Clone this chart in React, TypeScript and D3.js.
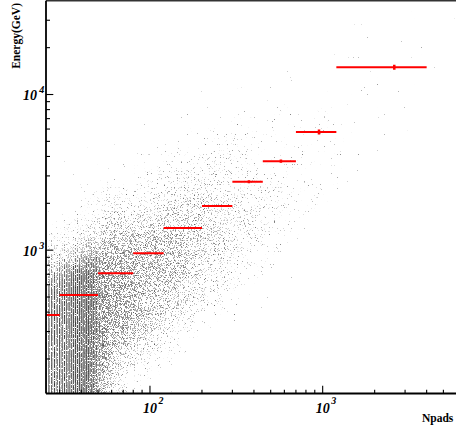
import * as React from 'react'
import { useEffect, useRef } from 'react'
import * as d3 from 'd3'

const W = 456
const H = 432

// profile bins (red): Npads range of each bin, mean Npads, mean energy and its error
const binLow = [25, 30, 50, 80, 120, 200, 300, 450, 700, 1200]
const binHigh = [30, 50, 80, 120, 200, 300, 450, 700, 1200, 4000]
const binMeanX = [27.3, 38.5, 63, 98, 155, 250, 374, 573, 952, 2598]
const binMeanE = [383, 515, 712, 957, 1390, 1923, 2754, 3732, 5754, 14960]
const binErrE = [6, 6, 8, 10, 15, 30, 60, 85, 210, 550]

// scatter density.
// one string per column of 0.1 in log10(Npads), starting at 10^1.4;
// each digit is one 0.1 step in log10(E) from 10^2.1 (first) to 10^4.6 (last).
// 0 = empty ... 9 = darkest
const densLogX0 = 1.4
const densLogY0 = 2.1
const densStep = 0.1
const densCols = [
  '9999999864211000000000000',
  '9999999975321110000000000',
  '9999999986432111000000000',
  '5677777776543211000000000',
  '3456777776543221100000000',
  '2345666766543221100000000',
  '1234556666544322110000000',
  '1123455666554332110000000',
  '0112344555554432211000000',
  '0011233445544433211000000',
  '0001123344444333211100000',
  '0000112233443332221100000',
  '0000011223333322211100000',
  '0000000112233322221110000',
  '0000000011222222211110000',
  '0000000001122222221111000',
  '0000000000111222221111000',
  '0000000000001111211111100',
  '0000000000000111111111110',
  '0000000000000011111111110',
  '0000000000000001111111111',
  '0000000000000000001111111',
  '0000000000000000000011111',
  '0000000000000000000001111',
]

const xDomain = [25, 7000]
const yDomain = [120, 40000]
const xMajor = [100, 1000]
const xMajorExp = ['2', '3']
const yMajor = [1000, 10000]
const yMajorExp = ['3', '4']
const stripeMaxN = 52

// share of pixels that carry a dot for each density digit
const coverage = [0, 0.008, 0.03, 0.08, 0.17, 0.27, 0.37, 0.47, 0.6, 0.9]
const noiseSd = 0.11

const FONT = '"Liberation Serif", "Times New Roman", serif'

function erf(v: number) {
  const s = Math.sign(v)
  const a = Math.abs(v)
  const t = 1 / (1 + 0.3275911 * a)
  const y = 1 - (((((1.061405429 * t - 1.453152027) * t) + 1.421413741) * t - 0.284496736) * t + 0.254829592) * t * Math.exp(-a * a)
  return s * y
}

export default function App() {
  const svgRef = useRef<SVGSVGElement>(null)

  useEffect(() => {
    if (!svgRef.current) return
    const svg = d3.select(svgRef.current)
    svg.selectAll('*').remove()

    const left = 46
    const top = 0.8
    const bottom = 393.5
    const pxPerDecade = 172.7
    const right = left + pxPerDecade * Math.log10(xDomain[1] / xDomain[0])

    const x = d3.scaleLog().domain(xDomain).range([left, right])
    const y = d3.scaleLog().domain(yDomain).range([bottom, top])

    const defs = svg.append('defs')
    defs.append('clipPath').attr('id', 'plotArea')
      .append('rect')
      .attr('x', left).attr('y', top)
      .attr('width', right - left).attr('height', bottom - top)

    // speckle filter: blurred density -> thresholded noise -> grey dots
    const cdf = d3.range(41).map(i => 0.5 * (1 + erf((i / 40 - 0.5) / (noiseSd * Math.SQRT2))))
    const filter = defs.append('filter')
      .attr('id', 'speckle')
      .attr('filterUnits', 'userSpaceOnUse')
      .attr('x', 0).attr('y', 0).attr('width', W + 40).attr('height', H)
      .attr('color-interpolation-filters', 'sRGB')
    filter.append('feGaussianBlur')
      .attr('in', 'SourceGraphic').attr('stdDeviation', 7).attr('result', 'dens')
    filter.append('feTurbulence')
      .attr('type', 'fractalNoise').attr('baseFrequency', 1.3)
      .attr('numOctaves', 1).attr('seed', 11).attr('result', 'noise')
    filter.append('feComponentTransfer')
      .attr('in', 'noise').attr('result', 'unoise')
      .append('feFuncA').attr('type', 'table').attr('tableValues', cdf.map(v => v.toFixed(5)).join(' '))
    filter.append('feComposite')
      .attr('in', 'unoise').attr('in2', 'dens').attr('operator', 'arithmetic')
      .attr('k1', 0).attr('k2', 1).attr('k3', 1).attr('k4', -0.5).attr('result', 'sum')
    filter.append('feComponentTransfer')
      .attr('in', 'sum').attr('result', 'dots')
      .append('feFuncA').attr('type', 'discrete').attr('tableValues', '0 1')
    // dot shade: random grey, darker where the density is high
    filter.append('feTurbulence')
      .attr('type', 'fractalNoise').attr('baseFrequency', 1.1)
      .attr('numOctaves', 1).attr('seed', 4).attr('result', 'noise2')
    filter.append('feColorMatrix')
      .attr('in', 'noise2').attr('type', 'matrix')
      .attr('values', '0 0 0 1.5 0.15  0 0 0 1.5 0.15  0 0 0 1.5 0.15  0 0 0 0 1')
      .attr('result', 'grey')
    filter.append('feColorMatrix')
      .attr('in', 'dens').attr('type', 'matrix')
      .attr('values', '0 0 0 -0.72 1  0 0 0 -0.72 1  0 0 0 -0.72 1  0 0 0 0 1')
      .attr('result', 'shade')
    filter.append('feComposite')
      .attr('in', 'grey').attr('in2', 'shade').attr('operator', 'arithmetic')
      .attr('k1', 1).attr('k2', 0).attr('k3', 0).attr('k4', 0).attr('result', 'ink')
    filter.append('feComposite').attr('in', 'ink').attr('in2', 'dots').attr('operator', 'in')

    // integer Npads gives columns at low x
    const mask = defs.append('mask')
      .attr('id', 'stripes')
      .attr('maskUnits', 'userSpaceOnUse')
      .attr('x', 0).attr('y', 0).attr('width', W + 40).attr('height', H)
    mask.selectAll('rect.col')
      .data(d3.range(25, stripeMaxN + 1))
      .join('rect')
      .attr('class', 'col')
      .attr('x', n => x(n) - 0.6)
      .attr('width', 1.2)
      .attr('y', 0).attr('height', H)
      .attr('fill', '#fff')
    mask.append('rect')
      .attr('x', x(stripeMaxN + 0.5)).attr('y', 0)
      .attr('width', W + 40).attr('height', H)
      .attr('fill', '#fff')

    const cells: { x0: number; x1: number; y0: number; y1: number; d: number }[] = []
    densCols.forEach((col, ci) => {
      col.split('').forEach((ch, ri) => {
        const d = +ch
        if (!d) return
        let x0 = x(Math.pow(10, densLogX0 + densStep * ci))
        let x1 = x(Math.pow(10, densLogX0 + densStep * (ci + 1)))
        let y0 = y(Math.pow(10, densLogY0 + densStep * (ri + 1)))
        let y1 = y(Math.pow(10, densLogY0 + densStep * ri))
        if (ci === 0) x0 -= 20
        if (ci === densCols.length - 1) x1 += 20
        if (ri === 0) y1 += 20
        if (ri === col.length - 1) y0 -= 20
        cells.push({ x0, x1, y0, y1, d })
      })
    })

    const scatter = svg.append('g').attr('clip-path', 'url(#plotArea)')
      .append('g').attr('mask', 'url(#stripes)')
      .append('g').attr('filter', 'url(#speckle)')
    scatter.selectAll('rect')
      .data(cells)
      .join('rect')
      .attr('x', c => c.x0)
      .attr('y', c => c.y0)
      .attr('width', c => c.x1 - c.x0)
      .attr('height', c => c.y1 - c.y0)
      .attr('fill', '#fff')
      .attr('fill-opacity', c => coverage[c.d])

    // profile
    const prof = svg.append('g').attr('clip-path', 'url(#plotArea)')
    const bins = binLow.map((lo, i) => ({
      lo, hi: binHigh[i], mx: binMeanX[i], e: binMeanE[i], err: binErrE[i],
    }))
    prof.selectAll('line.h')
      .data(bins)
      .join('line')
      .attr('class', 'h')
      .attr('x1', b => x(b.lo)).attr('x2', b => x(b.hi))
      .attr('y1', b => y(b.e)).attr('y2', b => y(b.e))
      .attr('stroke', '#ff0000').attr('stroke-width', 2)
    prof.selectAll('line.v')
      .data(bins)
      .join('line')
      .attr('class', 'v')
      .attr('x1', b => x(b.mx)).attr('x2', b => x(b.mx))
      .attr('y1', b => y(b.e - b.err)).attr('y2', b => y(b.e + b.err))
      .attr('stroke', '#ff0000').attr('stroke-width', 2.5)

    // frame and axes
    svg.append('line')
      .attr('x1', left).attr('x2', W + 10)
      .attr('y1', top).attr('y2', top)
      .attr('stroke', '#333').attr('stroke-width', 1.4)

    const axes = svg.append('g').attr('stroke', '#000')
    axes.append('line')
      .attr('x1', left).attr('x2', left).attr('y1', top).attr('y2', bottom)
      .attr('stroke-width', 1.8)
    axes.append('line')
      .attr('x1', left).attr('x2', W + 10).attr('y1', bottom).attr('y2', bottom)
      .attr('stroke-width', 1.8)

    const xTicks = x.ticks().filter(t => t > xDomain[0] && t < xDomain[1])
    axes.selectAll('line.xt')
      .data(xTicks)
      .join('line')
      .attr('class', 'xt')
      .attr('x1', t => x(t)).attr('x2', t => x(t))
      .attr('y1', bottom)
      .attr('y2', t => bottom - (xMajor.includes(t) ? 7.7 : 3.8))
      .attr('stroke-width', 1.1)

    const yTicks = y.ticks().filter(t => t > yDomain[0] && t < yDomain[1])
    axes.selectAll('line.yt')
      .data(yTicks)
      .join('line')
      .attr('class', 'yt')
      .attr('y1', t => y(t)).attr('y2', t => y(t))
      .attr('x1', left)
      .attr('x2', t => left + (yMajor.includes(t) ? 7.3 : 4))
      .attr('stroke-width', 1.1)

    const labels = svg.append('g')
      .attr('font-family', FONT)
      .attr('font-weight', 'bold')
      .attr('font-style', 'italic')
      .attr('fill', '#000')

    xMajor.forEach((v, i) => {
      labels.append('text')
        .attr('x', x(v)).attr('y', 412.5)
        .attr('text-anchor', 'middle')
        .attr('font-size', 14)
        .text('10')
      labels.append('text')
        .attr('x', x(v) + 8.5).attr('y', 404)
        .attr('font-size', 10)
        .text(xMajorExp[i])
    })
    yMajor.forEach((v, i) => {
      labels.append('text')
        .attr('x', 37).attr('y', y(v) + 5.5)
        .attr('text-anchor', 'end')
        .attr('font-size', 14)
        .text('10')
      labels.append('text')
        .attr('x', 39.3).attr('y', y(v) - 1.5)
        .attr('font-size', 10)
        .text(yMajorExp[i])
    })

    svg.append('text')
      .attr('x', 422).attr('y', 421.5)
      .attr('font-family', FONT).attr('font-weight', 'bold')
      .attr('font-size', 11.5)
      .text('Npads')
    svg.append('text')
      .attr('transform', 'translate(20,3) rotate(-90)')
      .attr('text-anchor', 'end')
      .attr('font-family', FONT).attr('font-weight', 'bold')
      .attr('font-size', 11.5)
      .text('Energy(GeV)')
  }, [])

  return (
    <svg
      ref={svgRef}
      width={W}
      height={H}
      style={{ position: 'absolute', left: 0, top: 0, background: '#fff' }}
    />
  )
}
